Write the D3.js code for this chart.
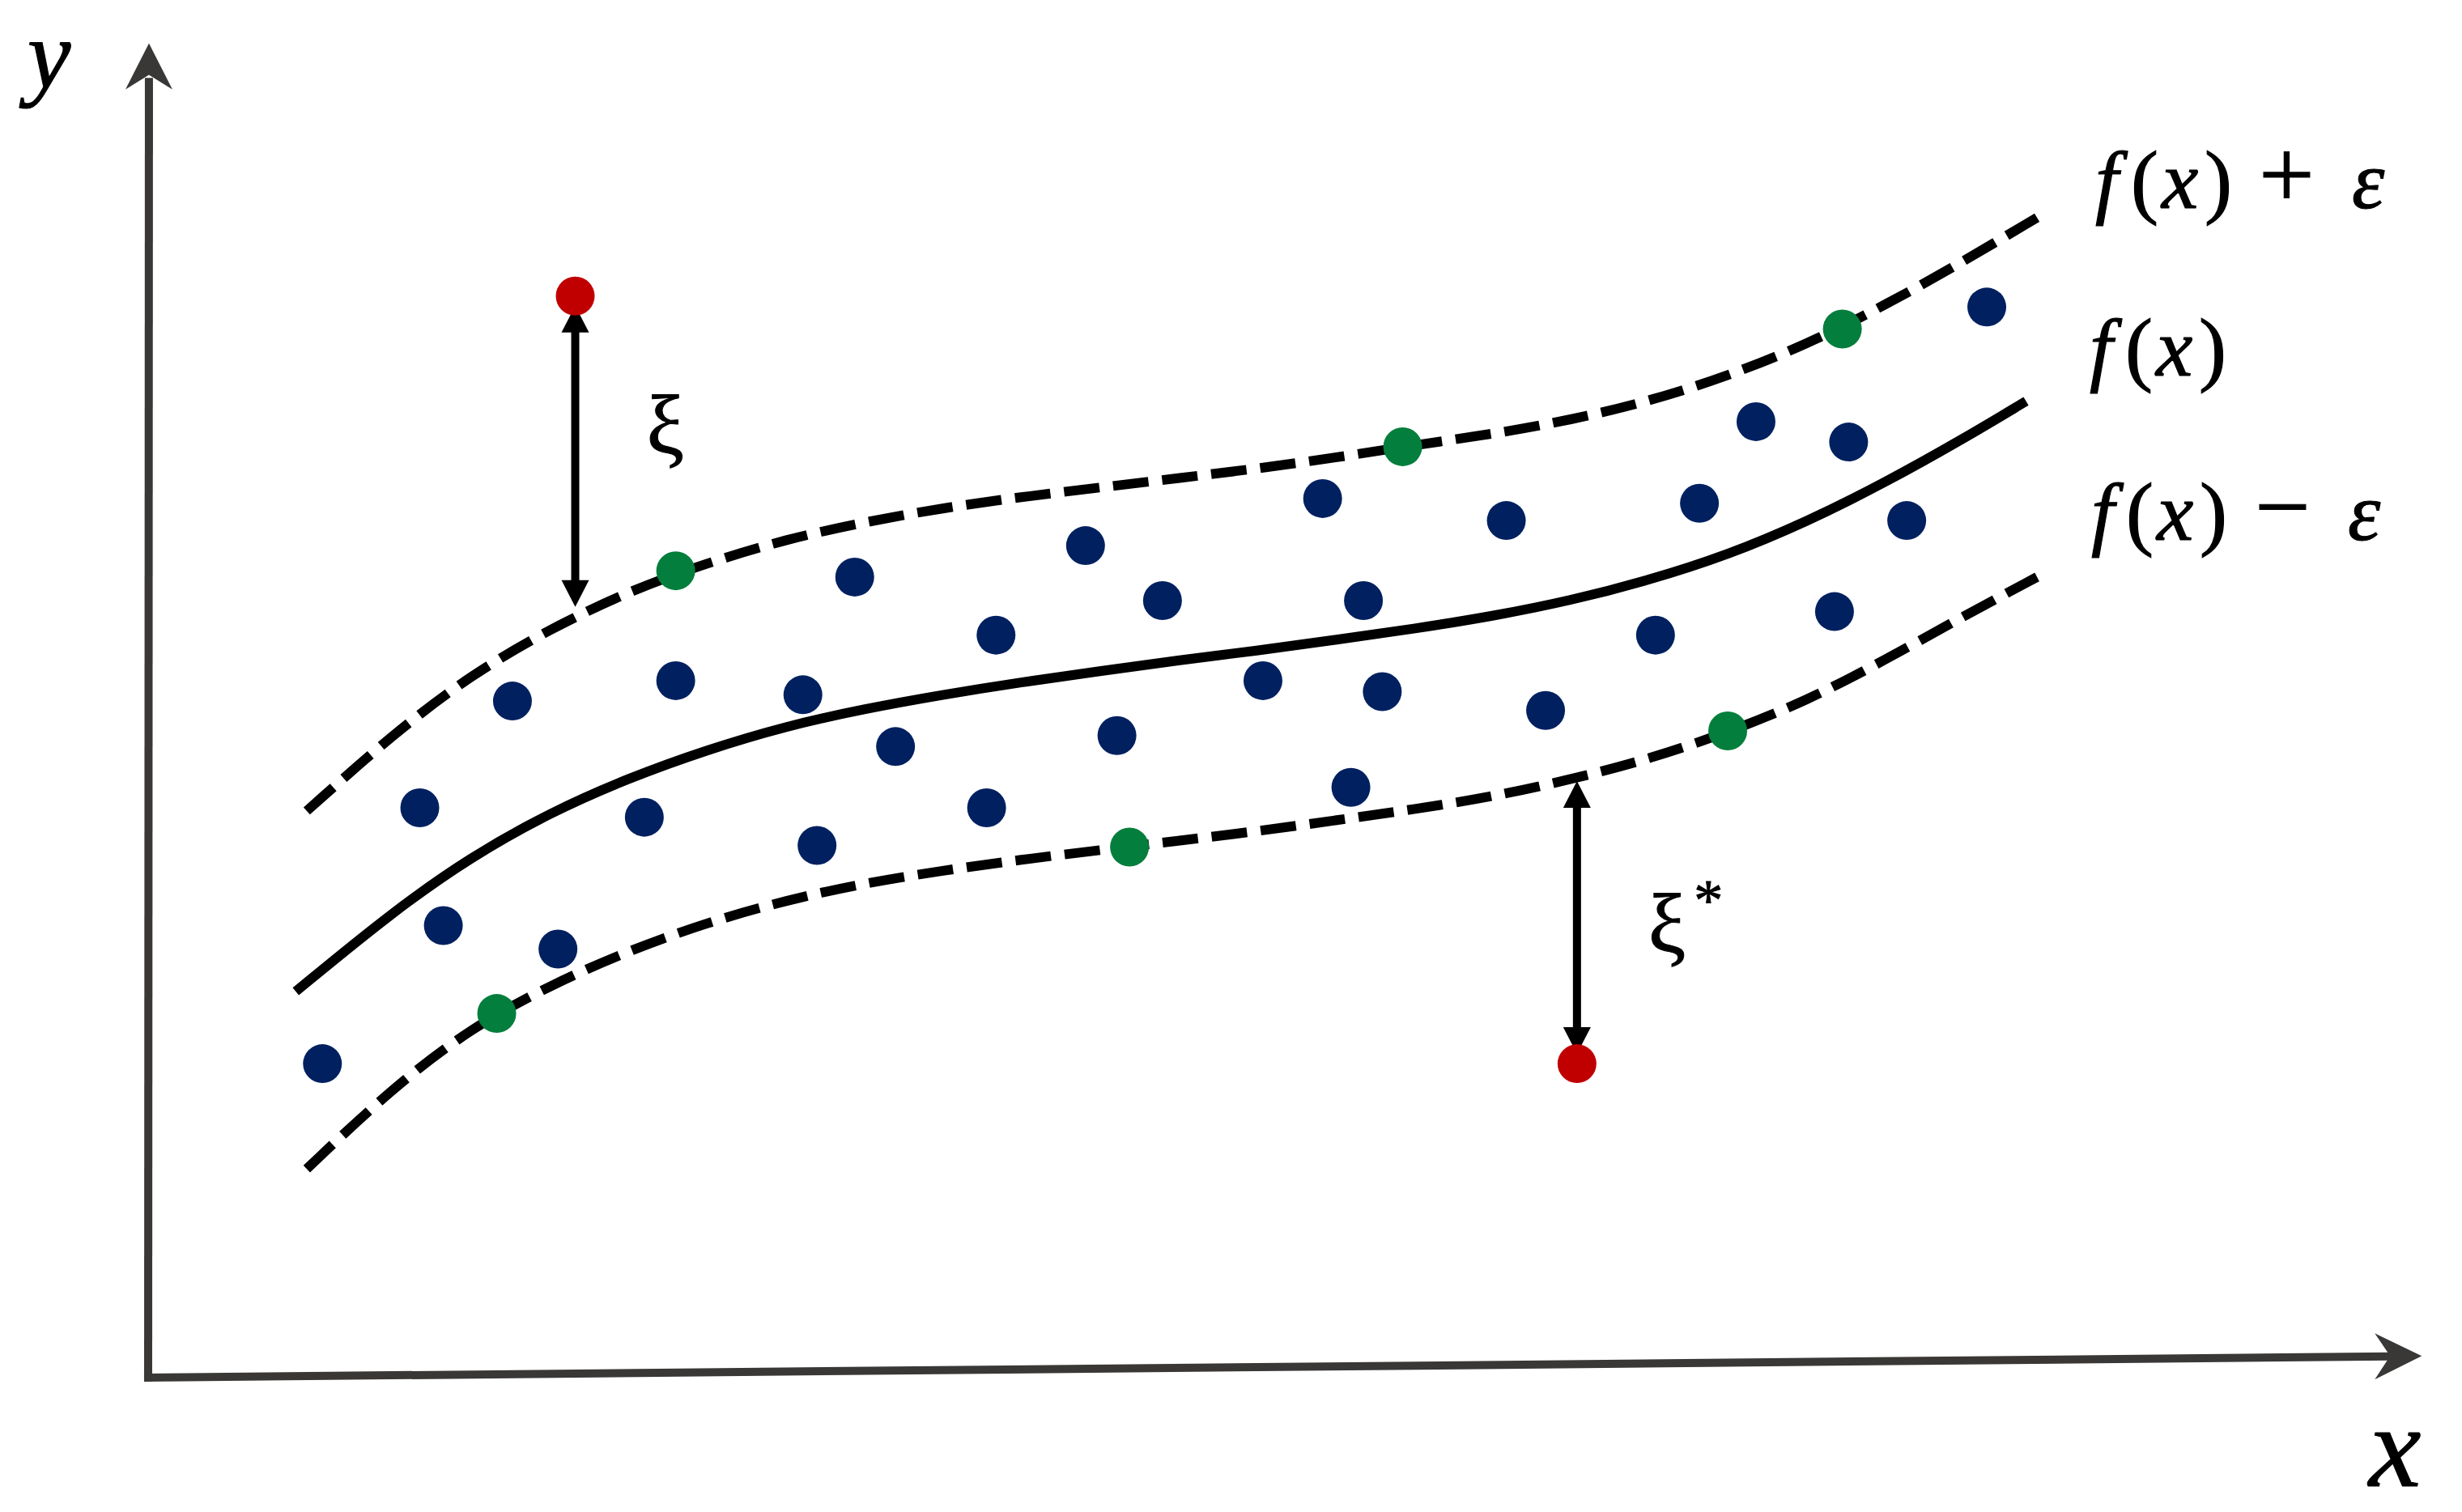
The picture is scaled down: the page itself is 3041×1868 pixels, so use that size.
<!DOCTYPE html>
<html>
<head>
<meta charset="utf-8">
<script src="https://cdn.jsdelivr.net/npm/d3@7"></script>
<style>
  html, body { margin: 0; padding: 0; background: #fff; }
  svg { display: block; }
</style>
</head>
<body>
<svg id="chart"></svg>
<script>
'use strict';

// regression function f(x) as [x, y]
const fCurve = [
  [9.4, 24.6], [15.6, 29.7], [20.6, 33.2], [25.6, 36.0], [30.6, 38.2], [35.6, 40.0],
  [40.6, 41.5], [45.6, 42.6], [50.6, 43.5], [55.6, 44.3], [60.6, 45.0], [65.6, 45.7],
  [70.6, 46.3], [75.6, 47.0], [80.6, 47.7], [85.6, 48.5], [90.6, 49.5], [95.6, 50.8],
  [100.6, 52.4], [105.6, 54.5], [110.6, 57.0], [115.6, 59.8], [119.6, 62.2]
];

// f(x) + epsilon tube edge
const upperCurve = [
  [10.1, 36.1], [15.6, 41.0], [20.6, 44.8], [25.6, 47.7], [30.6, 50.1], [35.6, 51.9],
  [40.6, 53.4], [45.6, 54.5], [50.6, 55.4], [55.6, 56.1], [60.6, 56.7], [65.6, 57.3],
  [70.6, 57.9], [75.6, 58.6], [80.6, 59.4], [85.6, 60.1], [90.6, 61.0], [95.6, 62.2],
  [100.6, 63.8], [105.6, 65.8], [110.6, 68.3], [115.6, 71.1], [120.3, 73.9]
];

// f(x) - epsilon tube edge
const lowerCurve = [
  [10.1, 13.3], [15.6, 18.5], [20.6, 22.3], [25.6, 25.0], [30.6, 27.2], [35.6, 29.0],
  [40.6, 30.4], [45.6, 31.5], [50.6, 32.3], [55.6, 33.0], [60.6, 33.6], [65.6, 34.2],
  [70.6, 34.8], [75.6, 35.5], [80.6, 36.2], [85.6, 37.0], [90.6, 38.1], [95.6, 39.4],
  [100.6, 41.1], [105.6, 43.1], [110.6, 45.7], [115.6, 48.5], [120.3, 51.0]
];

// samples inside the tube
const insidePoints = [
  [11.1, 20.0], [17.3, 36.3], [18.8, 28.8], [23.2, 43.1], [26.1, 27.3], [31.6, 35.7],
  [33.6, 44.4], [41.7, 43.5], [42.6, 33.9], [45.0, 51.0], [47.6, 40.2], [53.4, 36.3],
  [54.0, 47.3], [59.7, 53.0], [61.7, 40.9], [64.6, 49.5], [71.0, 44.4], [74.8, 56.0],
  [76.6, 37.6], [77.4, 49.5], [78.6, 43.7], [86.5, 54.6], [89.0, 42.5], [96.0, 47.3],
  [98.8, 55.7], [102.4, 60.9], [107.4, 48.8], [108.3, 59.6], [112.0, 54.6], [117.1, 68.2]
];

// support vectors sitting on the tube edges
const supportPoints = [
  [22.2, 23.2], [33.6, 51.4], [62.5, 33.8], [79.9, 59.3], [100.6, 41.2], [107.9, 66.8]
];

// outliers and where their slack arrows meet the tube
const outlierPoints = [[27.2, 68.9], [91.0, 20.0]];
const slackEnds = [49.1, 38.0];
const slackLabels = ['ξ', 'ξ*'];

const W = 3041, H = 1868;
const X_MAX = 144.8, Y_MAX = 85.0;
const DOT_R = 24;

const svg = d3.select('#chart').attr('width', W).attr('height', H);
svg.append('rect').attr('width', W).attr('height', H).attr('fill', '#fff');

const x = d3.scaleLinear().domain([0, X_MAX]).range([183, 183 + X_MAX * 19.394]);
const y = d3.scaleLinear().domain([0, Y_MAX]).range([1702, 1702 - Y_MAX * 19.394]);

// basis smooths out the small reading errors in the sampled curves
const line = d3.line()
  .x(d => x(d[0]))
  .y(d => y(d[1]))
  .curve(d3.curveBasis);

// axes, the x axis leans up a little towards its arrow like the original
const axisColor = '#3a3836';
const axes = svg.append('g').attr('stroke', axisColor).attr('stroke-width', 10).attr('fill', 'none');
axes.append('line').attr('x1', x(0)).attr('y1', y(-0.26)).attr('x2', x(0.05)).attr('y2', y(Y_MAX - 2.2));
axes.append('line').attr('x1', x(-0.26)).attr('y1', y(0)).attr('x2', x(X_MAX - 2)).attr('y2', y(1.35));

const heads = svg.append('g').attr('fill', axisColor);
heads.append('path').attr('d', () => {
  const tx = x(0.05), ty = y(Y_MAX);
  return `M${tx},${ty}L${tx + 29},${ty + 57}L${tx},${ty + 39}L${tx - 29},${ty + 57}Z`;
});
heads.append('path').attr('d', () => {
  const tx = x(X_MAX), ty = y(1.38);
  return `M${tx},${ty}L${tx - 58},${ty - 28}L${tx - 39},${ty}L${tx - 58},${ty + 29}Z`;
});

// tube and regression curve
svg.append('path').datum(upperCurve).attr('d', line)
  .attr('fill', 'none').attr('stroke', '#000').attr('stroke-width', 12).attr('stroke-dasharray', '44,17');
svg.append('path').datum(lowerCurve).attr('d', line)
  .attr('fill', 'none').attr('stroke', '#000').attr('stroke-width', 12).attr('stroke-dasharray', '44,17');
svg.append('path').datum(fCurve).attr('d', line)
  .attr('fill', 'none').attr('stroke', '#000').attr('stroke-width', 12);

// slack arrows between the outliers and the tube
function arrowHead(g, tx, ty, dir) {
  // dir = 1 points down, -1 points up
  g.append('path').attr('d', `M${tx},${ty}L${tx - 17},${ty - dir * 33}L${tx + 17},${ty - dir * 33}Z`);
}

const slack = svg.append('g').attr('fill', '#000');
outlierPoints.forEach((p, i) => {
  const px = x(p[0]);
  const above = p[1] > slackEnds[i];
  const dotEdge = above ? y(p[1]) + DOT_R - 12 : y(p[1]) - DOT_R + 12;
  const tubeEnd = y(slackEnds[i]);
  const top = above ? dotEdge : tubeEnd;
  const bottom = above ? tubeEnd : dotEdge;
  slack.append('line')
    .attr('x1', px).attr('y1', top + 20).attr('x2', px).attr('y2', bottom - 20)
    .attr('stroke', '#000').attr('stroke-width', 10);
  arrowHead(slack, px, top, -1);
  arrowHead(slack, px, bottom, 1);
});

// dots
const dots = svg.append('g');
dots.selectAll('.inside').data(insidePoints).enter().append('circle')
  .classed('inside', true)
  .attr('cx', d => x(d[0])).attr('cy', d => y(d[1])).attr('r', DOT_R).attr('fill', '#002060');
dots.selectAll('.support').data(supportPoints).enter().append('circle')
  .classed('support', true)
  .attr('cx', d => x(d[0])).attr('cy', d => y(d[1])).attr('r', DOT_R).attr('fill', '#047e3c');
dots.selectAll('.outlier').data(outlierPoints).enter().append('circle')
  .classed('outlier', true)
  .attr('cx', d => x(d[0])).attr('cy', d => y(d[1])).attr('r', DOT_R).attr('fill', '#c00000');

// text
const font = '"Liberation Serif", "Times New Roman", serif';

function mathLabel(ty, size, parts) {
  const t = svg.append('text').attr('y', ty)
    .attr('font-family', font).attr('font-size', size)
    .attr('fill', '#000').attr('stroke', '#000').attr('stroke-width', 1.2);
  parts.forEach(([str, italic, px, fs]) => {
    const s = t.append('tspan').attr('x', px).text(str).attr('font-style', italic ? 'italic' : 'normal');
    if (fs) s.attr('font-size', fs);
  });
  return t;
}

mathLabel(257, 102, [['f', true, 2588], ['(', false, 2632], ['x', true, 2670], [')', false, 2723], ['+', false, 2790, 122], ['ε', true, 2905]]);
mathLabel(464, 102, [['f', true, 2581], ['(', false, 2625], ['x', true, 2663], [')', false, 2716]]);
mathLabel(667, 102, [['f', true, 2583], ['(', false, 2626], ['x', true, 2664], [')', false, 2717], ['−', false, 2785, 122], ['ε', true, 2900]]);

// slack labels next to their arrows
outlierPoints.forEach((p, i) => {
  const mid = (y(p[1]) + y(slackEnds[i])) / 2;
  const t = svg.append('text')
    .attr('x', x(p[0]) + 88).attr('y', mid + (i === 0 ? 2 : 36))
    .attr('font-family', font).attr('font-size', 104)
    .attr('fill', '#000').attr('stroke', '#000').attr('stroke-width', 1);
  t.append('tspan').text(slackLabels[i][0]);
  if (slackLabels[i].length > 1) {
    t.append('tspan').attr('dx', 10).attr('dy', -40).attr('font-size', 72).text(slackLabels[i].slice(1));
  }
});

// axis names
svg.append('text').attr('x', 34).attr('y', 108).attr('font-family', font).attr('font-style', 'italic')
  .attr('font-size', 120).attr('fill', '#000').attr('stroke', '#000').attr('stroke-width', 1.2).text('y');
svg.append('text').attr('x', 2926).attr('y', 1836).attr('font-family', font).attr('font-style', 'italic')
  .attr('font-size', 145).attr('fill', '#000').attr('stroke', '#000').attr('stroke-width', 1.2).text('x');
</script>
</body>
</html>
